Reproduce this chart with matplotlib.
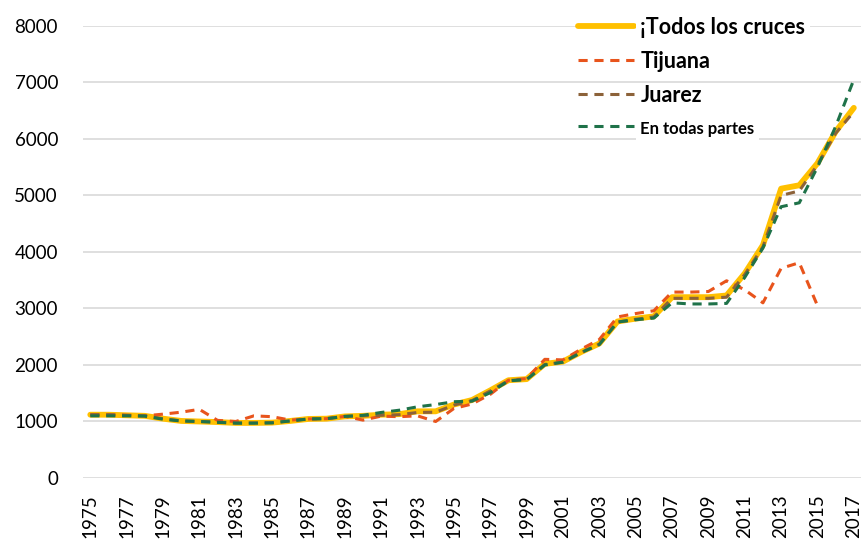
import matplotlib
matplotlib.use('Agg')
import matplotlib.pyplot as plt
import numpy as np

plt.rcParams['font.family'] = ['Lato', 'DejaVu Sans']

# Datos
years = np.arange(1975, 2018)

todos = [1120, 1120, 1110, 1100, 1050, 1010, 1000, 990, 975, 975,
         980, 1010, 1045, 1050, 1090, 1100, 1120, 1130, 1180, 1180,
         1300, 1380, 1550, 1730, 1750, 2020, 2060, 2230, 2380, 2770,
         2820, 2860, 3200, 3200, 3200, 3230, 3620, 4120, 5120, 5180,
         5570, 6130, 6550]

tijuana = [1120, 1120, 1110, 1100, 1130, 1165, 1215, 1020, 1000, 1100,
           1085, 1025, 1045, 1050, 1090, 1025, 1095, 1085, 1100, 1000,
           1230, 1310, 1480, 1730, 1760, 2100, 2090, 2280, 2450, 2850,
           2910, 2960, 3290, 3290, 3300, 3490, 3330, 3100, 3710, 3810,
           3050, np.nan, np.nan]

juarez = [1120, 1120, 1110, 1100, 1050, 1010, 1000, 990, 975, 975,
          980, 1010, 1045, 1050, 1090, 1100, 1110, 1120, 1160, 1165,
          1290, 1370, 1540, 1725, 1745, 2010, 2050, 2220, 2370, 2760,
          2810, 2850, 3180, 3180, 3180, 3200, 3600, 4090, 5000, 5080,
          5540, 6100, 6480]

todas_partes = [1100, 1100, 1100, 1095, 1040, 1010, 1000, 985, 970, 970,
                975, 1010, 1045, 1050, 1090, 1110, 1160, 1200, 1260, 1300,
                1350, 1360, 1510, 1720, 1740, 2000, 2050, 2220, 2360, 2760,
                2800, 2830, 3100, 3080, 3080, 3090, 3550, 4070, 4800, 4870,
                5500, 6220, 7050]

fig = plt.figure(figsize=(8.62, 5.4), dpi=100)
ax = fig.add_axes([0.0963, 0.1148, 0.9037, 0.8372])

ax.plot(years, todos, color='#FFC000', lw=4.2, solid_capstyle='round',
        label='¡Todos los cruces', zorder=2)
ax.plot(years, tijuana, color='#E8541C', lw=2.2, ls=(0, (3, 2.2)),
        label='Tijuana', zorder=3)
ax.plot(years, juarez, color='#8C6239', lw=2.2, ls=(0, (3, 2.2)),
        label='Juarez', zorder=4)
ax.plot(years, todas_partes, color='#1F7249', lw=2.2, ls=(0, (3, 2.2)),
        label='En todas partes', zorder=5)

ax.set_xlim(1974.6, 2017.45)
ax.set_ylim(0, 8000)
ax.set_yticks(np.arange(0, 8001, 1000))
ax.set_xticks(np.arange(1975, 2018, 2))
ax.tick_params(axis='y', length=0, pad=18, labelsize=13.5)
ax.tick_params(axis='x', length=0, pad=12, labelsize=13.5, labelrotation=90)
ax.grid(True, axis='y', color='#D9D9D9', lw=1.2, zorder=0)
for s in ax.spines.values():
    s.set_visible(False)
ax.set_axisbelow(True)

# leyenda sin marco; solo los textos tapan la cuadrícula
leg = ax.legend(loc='upper left', bbox_to_anchor=(578 / 862, 1 - 17 / 540),
                bbox_transform=fig.transFigure, frameon=False,
                prop={'weight': 'bold', 'size': 15.5},
                handlelength=2.6, handletextpad=0.3, labelspacing=0.6,
                borderpad=0, borderaxespad=0)
leg.set_zorder(10)
leg.get_texts()[3].set_fontsize(12)
for i in (0, 3):
    leg.get_texts()[i].set_bbox(dict(facecolor='white', edgecolor='none', pad=3))

plt.savefig('out.png', dpi=100)
